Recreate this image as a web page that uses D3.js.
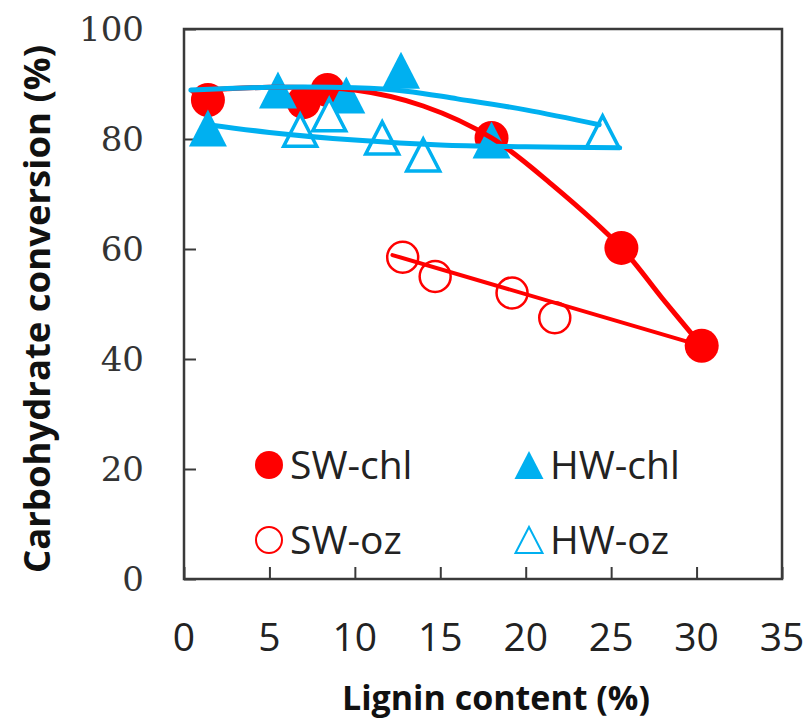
<!DOCTYPE html>
<html>
<head>
<meta charset="utf-8">
<script src="https://cdn.jsdelivr.net/npm/d3@7"></script>
<style>
  body { margin: 0; background: #fff; }
  svg { display: block; }
</style>
</head>
<body>
<svg id="chart" width="810" height="727"></svg>
<script>
// measured points, [lignin %, carbohydrate conversion %]
const swChl = [[1.4, 87.1], [7.0, 86.7], [8.4, 88.9], [18.0, 80.2], [25.6, 60.2], [30.3, 42.4]];
const swOz = [[12.8, 58.5], [14.7, 55.0], [19.2, 52.0], [21.7, 47.5]];
const hwChl = [[1.4, 82.0], [5.5, 88.9], [9.5, 88.0], [12.7, 92.5], [18.0, 79.8]];
const hwOz = [[6.8, 81.6], [8.5, 84.4], [11.6, 80.2], [14.0, 77.1], [24.5, 81.3]];

// trend lines
const swChlTrend = [[0.5, 88.7], [5, 89.4], [10, 88.9], [14, 86.0], [18, 80.2], [21.5, 71.8],
  [25.6, 60.2], [28, 51.0], [30.3, 42.4]];
const swOzTrend = [[12.2, 58.9], [30.3, 42.4]];
const hwChlTrend = [[0.4, 88.9], [5, 89.4], [10, 89.3], [13, 88.7], [16, 87.3], [20, 85.3], [24.3, 82.6]];
const hwOzTrend = [[1.4, 82.6], [5, 81.2], [10, 79.8], [15, 78.9], [20, 78.6], [25.5, 78.4]];

const xTicks = [0, 5, 10, 15, 20, 25, 30, 35];
const yTicks = [0, 20, 40, 60, 80, 100];

const RED = "#ff0000";
const BLUE = "#00b0f0";
const AXIS = "#3a3a3a";

var svg = d3.select("#chart");

const L = 184, R = 782, T = 29, B = 579;
var x = d3.scaleLinear().domain([0, 35]).range([L, R]);
var y = d3.scaleLinear().domain([0, 100]).range([B, T]);

// ticks point inward
svg.append("g")
  .attr("transform", `translate(0,${B})`)
  .call(d3.axisBottom(x).tickValues(xTicks).tickSize(-12).tickFormat(""))
  .call(g => g.select(".domain").remove())
  .call(g => g.selectAll("line").attr("stroke", AXIS).attr("stroke-width", 2));

svg.append("g")
  .attr("transform", `translate(${L},0)`)
  .call(d3.axisLeft(y).tickValues(yTicks).tickSize(-12).tickFormat(""))
  .call(g => g.select(".domain").remove())
  .call(g => g.selectAll("line").attr("stroke", AXIS).attr("stroke-width", 2));

svg.append("rect")
  .attr("x", L).attr("y", T)
  .attr("width", R - L).attr("height", B - T)
  .attr("fill", "none")
  .attr("stroke", AXIS)
  .attr("stroke-width", 2.5);

svg.selectAll("text.xt")
  .data(xTicks)
  .enter()
  .append("text")
  .attr("class", "xt")
  .attr("x", d => x(d))
  .attr("y", 651)
  .attr("text-anchor", "middle")
  .attr("font-family", "Open Sans")
  .attr("font-size", 39)
  .attr("fill", "#222")
  .text(d => d);

svg.selectAll("text.yt")
  .data(yTicks)
  .enter()
  .append("text")
  .attr("class", "yt")
  .attr("x", 144)
  .attr("y", d => y(d))
  .attr("dy", "0.36em")
  .attr("text-anchor", "end")
  .attr("font-family", "DejaVu Serif")
  .attr("font-size", 34)
  .attr("fill", "#333")
  .text(d => d);

svg.append("text")
  .attr("x", 496)
  .attr("y", 710)
  .attr("text-anchor", "middle")
  .attr("font-family", "Open Sans")
  .attr("font-weight", "bold")
  .attr("font-size", 34)
  .attr("fill", "#111")
  .text("Lignin content (%)");

svg.append("text")
  .attr("transform", "translate(50,309) rotate(-90)")
  .attr("text-anchor", "middle")
  .attr("font-family", "Open Sans")
  .attr("font-weight", "bold")
  .attr("font-size", 36.5)
  .attr("fill", "#111")
  .text("Carbohydrate conversion (%)");

var tri = (w, h) => `M0,${-h / 2}L${w / 2},${h / 2}L${-w / 2},${h / 2}Z`;

// markers
svg.selectAll("circle.swchl")
  .data(swChl)
  .enter()
  .append("circle")
  .attr("class", "swchl")
  .attr("cx", d => x(d[0]))
  .attr("cy", d => y(d[1]))
  .attr("r", 17)
  .attr("fill", RED);

svg.selectAll("circle.swoz")
  .data(swOz)
  .enter()
  .append("circle")
  .attr("class", "swoz")
  .attr("cx", d => x(d[0]))
  .attr("cy", d => y(d[1]))
  .attr("r", 15.5)
  .attr("fill", "none")
  .attr("stroke", RED)
  .attr("stroke-width", 2.5);

svg.selectAll("path.hwchl")
  .data(hwChl)
  .enter()
  .append("path")
  .attr("class", "hwchl")
  .attr("transform", d => `translate(${x(d[0])},${y(d[1])})`)
  .attr("d", tri(38, 37))
  .attr("fill", BLUE);

svg.selectAll("path.hwoz")
  .data(hwOz)
  .enter()
  .append("path")
  .attr("class", "hwoz")
  .attr("transform", d => `translate(${x(d[0])},${y(d[1])})`)
  .attr("d", tri(33, 32))
  .attr("fill", "#fff")
  .attr("stroke", BLUE)
  .attr("stroke-width", 3.5);

// trend lines
var line = d3.line().x(d => x(d[0])).y(d => y(d[1])).curve(d3.curveCatmullRom.alpha(0.5));

[[swChlTrend, RED, 5], [swOzTrend, RED, 4], [hwChlTrend, BLUE, 5], [hwOzTrend, BLUE, 5]].forEach(t => {
  svg.append("path")
    .attr("d", line(t[0]))
    .attr("fill", "none")
    .attr("stroke", t[1])
    .attr("stroke-width", t[2])
    .attr("stroke-linecap", "round");
});

// legend
const legendItems = [
  { name: "SW-chl", kind: "circle", filled: true, col: 0, row: 0 },
  { name: "HW-chl", kind: "tri", filled: true, col: 1, row: 0 },
  { name: "SW-oz", kind: "circle", filled: false, col: 0, row: 1 },
  { name: "HW-oz", kind: "tri", filled: false, col: 1, row: 1 }
];

var leg = svg.selectAll("g.leg")
  .data(legendItems)
  .enter()
  .append("g")
  .attr("class", "leg")
  .attr("transform", d => `translate(${d.col ? 529 : 269},${d.row ? 540 : 465})`);

leg.each(function(d) {
  var g = d3.select(this);
  var color = d.kind == "circle" ? RED : BLUE;
  if (d.kind == "circle") {
    g.append("circle")
      .attr("r", d.filled ? 14 : 13)
      .attr("fill", d.filled ? color : "none")
      .attr("stroke", d.filled ? "none" : color)
      .attr("stroke-width", 2);
  } else {
    g.append("path")
      .attr("d", d.filled ? tri(29, 28) : tri(27, 26))
      .attr("fill", d.filled ? color : "#fff")
      .attr("stroke", d.filled ? "none" : color)
      .attr("stroke-width", 2);
  }
  g.append("text")
    .attr("x", 21)
    .attr("dy", "0.36em")
    .attr("font-family", "Open Sans")
    .attr("font-size", 39)
    .attr("fill", "#222")
    .text(d.name);
});
</script>
</body>
</html>
